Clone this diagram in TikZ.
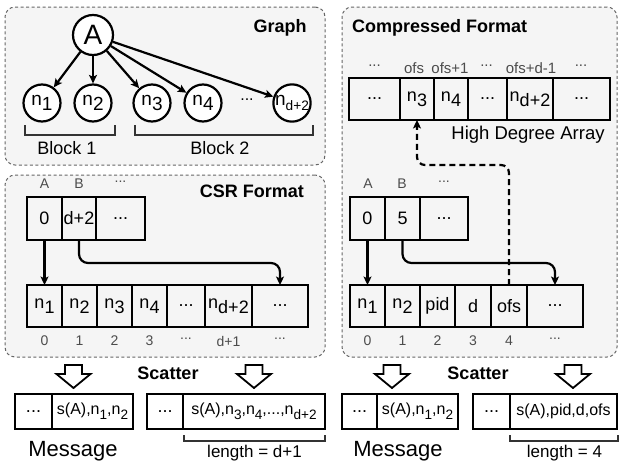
\documentclass[tikz,border=0pt]{standalone}
\usepackage{fontspec}
\usepackage{graphicx}
\setmainfont{Liberation Sans}
\usetikzlibrary{arrows.meta}
\newcommand\fsz[1]{\fontsize{#1}{#1}\selectfont}
\newcommand\lw[2][1]{\raisebox{-0.3em}{\scalebox{#1}{#2}}}
\newcommand\mkcell[6]{\node[cell, minimum width={(#3)-(#2)}, minimum height={(#5)-(#4)}] (#1) at ({((#2)+(#3))/2},{((#4)+(#5))/2}) {#6};}
\newcommand\hollow[2]{\draw[hollowarr] (#2-8.5,365) -- (#2+8.5,365) -- (#2+8.5,374) -- (#2+17,374) -- (#2,388) -- (#2-17,374) -- (#2-8.5,374) -- cycle;}
\begin{document}
\begin{tikzpicture}[x=1pt,y=-1pt,
  panel/.style={draw=black!60, dash pattern=on 3pt off 2.5pt, fill=black!4, rounded corners=10pt, line width=1pt, inner sep=0pt, outer sep=0pt},
  cell/.style={draw, line width=2.2pt, inner sep=0pt, outer sep=0pt, font=\fsz{18}},
  mcell/.style={cell, font=\fsz{16}},
  vert/.style={draw, circle, line width=2.2pt, minimum size=37pt, inner sep=0pt, fill=white, font=\fsz{19}},
  lbl/.style={text=black!70, font=\fsz{14}, inner sep=0pt},
  toplbl/.style={text=black!70, font=\fsz{15}, inner sep=0pt},
  ttl/.style={font=\fsz{18}\bfseries, inner sep=0pt},
  big/.style={font=\fsz{22}, inner sep=0pt},
  arr/.style={line width=2.2pt, -{Stealth[length=8.5pt,width=8pt,inset=2pt]}},
  darr/.style={arr, dash pattern=on 6pt off 4pt, rounded corners=8pt},
  elbow/.style={arr, rounded corners=9pt},
  brk/.style={line width=1.3pt, draw=black!80},
  hollowarr/.style={line width=1.8pt, fill=white, line join=miter},
]
\useasboundingbox (0,0) rectangle (621,463);
\fill[white] (0,0) rectangle (621,463);

% panels
\node[panel, minimum width=320, minimum height=158] (gpanel) at (165,86) {};
\node[panel, minimum width=320, minimum height=182] (cpanel) at (165,266) {};
\node[panel, minimum width=275, minimum height=350] (rpanel) at (479.5,182) {};

% ---------- Graph ----------
\node[ttl] (tgraph) at (280,28) {Graph};
\node[vert, minimum size=40pt, font=\fsz{28}] (A) at (93,35) {A};
\node[vert] (v1) at (42,103) {n\lw{1}};
\node[vert] (v2) at (93,103) {n\lw{2}};
\node[vert] (v3) at (152,103) {n\lw{3}};
\node[vert] (v4) at (203,103) {n\lw{4}};
\node[inner sep=0pt, font=\fsz{16}] (vdots) at (247,100) {...};
\node[vert] (vd) at (292,103) {n\lw[0.72]{d+2}};
\foreach \t in {v1,v2,v3,v4,vd} \draw[arr] (A) -- (\t);
\draw[brk] (25,125) -- (25,135) -- (115,135) -- (115,125);
\draw[brk] (135,125) -- (135,135) -- (313,135) -- (313,125);
\node[big, font=\fsz{18}] (b1) at (67,148) {Block 1};
\node[big, font=\fsz{18}] (b2) at (220,148) {Block 2};

% ---------- CSR ----------
\node[ttl] (tcsr) at (252,191) {CSR Format};
\node[lbl] (la) at (44.5,184) {A};
\node[lbl] (lb) at (79,184) {B};
\node[lbl] (lc) at (120.5,182) {...};
\mkcell{c0}{27}{62}{197}{240}{0}
\mkcell{c1}{62}{96}{197}{240}{d+2}
\mkcell{c2}{96}{145}{197}{240}{...}
\mkcell{e0}{27}{62}{285}{327}{n\lw{1}}
\mkcell{e1}{62}{97}{285}{327}{n\lw{2}}
\mkcell{e2}{97}{132}{285}{327}{n\lw{3}}
\mkcell{e3}{132}{167}{285}{327}{n\lw{4}}
\mkcell{e4}{167}{205}{285}{327}{...}
\mkcell{e5}{205}{252}{285}{327}{n\lw{d+2}}
\mkcell{e6}{252}{308}{285}{327}{...}
\node[lbl] (il1) at (44.5,341) {0};
\node[lbl] (il2) at (79.5,341) {1};
\node[lbl] (il3) at (114.5,341) {2};
\node[lbl] (il4) at (149.5,341) {3};
\node[lbl] (il5) at (186,339) {...};
\node[lbl] (il6) at (228.5,341) {d+1};
\node[lbl] (il7) at (280,339) {...};
\draw[arr] (c0.south) -- (e0.north);
\draw[elbow] (c1.south) -- (c1.south |- 0,263) -- (e6.north |- 0,263) -- (e6.north);

% ---------- Compressed ----------
\node[ttl, anchor=west] (tcomp) at (352,28) {Compressed Format};
\mkcell{h0}{349}{400}{78}{120}{...}
\mkcell{h1}{400}{434}{78}{120}{n\lw{3}}
\mkcell{h2}{434}{468}{78}{120}{n\lw{4}}
\mkcell{h3}{468}{507}{78}{120}{...}
\mkcell{h4}{507}{553}{78}{120}{n\lw{d+2}}
\mkcell{h5}{553}{610}{78}{120}{...}
\node[toplbl] (hl0) at (374.5,66) {...};
\node[toplbl] (hl1) at (414,68) {ofs};
\node[toplbl] (hl2) at (450,68) {ofs+1};
\node[toplbl] (hl3) at (486.5,66) {...};
\node[toplbl] (hl4) at (531,68) {ofs+d-1};
\node[toplbl] (hl5) at (581,66) {...};
\node[big, font=\fsz{18.5}] (hda) at (528,135) {High Degree Array};

\node[lbl] (ra) at (368,184) {A};
\node[lbl] (rb) at (402,184) {B};
\node[lbl] (rc) at (444,182) {...};
\mkcell{r0}{350}{385}{197}{240}{0}
\mkcell{r1}{385}{420}{197}{240}{5}
\mkcell{r2}{420}{468}{197}{240}{...}
\mkcell{s0}{350}{385}{285}{327}{n\lw{1}}
\mkcell{s1}{385}{420}{285}{327}{n\lw{2}}
\mkcell{s2}{420}{455}{285}{327}{pid}
\mkcell{s3}{455}{491}{285}{327}{d}
\mkcell{s4}{491}{527}{285}{327}{ofs}
\mkcell{s5}{527}{583}{285}{327}{...}
\node[lbl] (jl1) at (367.5,341) {0};
\node[lbl] (jl2) at (402.5,341) {1};
\node[lbl] (jl3) at (437.5,341) {2};
\node[lbl] (jl4) at (473,341) {3};
\node[lbl] (jl5) at (509,341) {4};
\node[lbl] (jl6) at (555,339) {...};
\draw[arr] (r0.south) -- (s0.north);
\draw[elbow] (r1.south) -- (r1.south |- 0,263) -- (s5.north |- 0,263) -- (s5.north);
\draw[darr] (s4.north) -- (s4.north |- 0,165) -- (h1.south |- 0,165) -- (h1.south);

% ---------- Scatter ----------
\node[ttl] (sc1) at (168,373) {Scatter};
\node[ttl] (sc2) at (478,373) {Scatter};
\hollow{ha}{73.5}
\hollow{hb}{254}
\hollow{hc}{392}
\hollow{hd}{573}

\mkcell{m0}{15}{52}{394}{429}{...}
\node[mcell, minimum width=81, minimum height=35] (m1) at (92.5,411.5) {s(A),n\lw[0.85]{1},n\lw[0.85]{2}};
\mkcell{m2}{147}{183}{394}{429}{...}
\node[mcell, minimum width=142, minimum height=35] (m3) at (254,411.5) {s(A),n\lw[0.85]{3},n\lw[0.85]{4},...,n\lw[0.85]{d+2}};
\mkcell{m4}{342}{377}{394}{429}{...}
\node[mcell, minimum width=81, minimum height=35] (m5) at (417.5,411.5) {s(A),n\lw[0.85]{1},n\lw[0.85]{2}};
\mkcell{m6}{473}{510}{394}{429}{...}
\node[mcell, minimum width=107, minimum height=35] (m7) at (563.5,411.5) {s(A),pid,d,ofs};

\node[big, anchor=base] (msg1) at (73,456) {Message};
\node[big, anchor=base] (msg2) at (398,456) {Message};
\draw[brk] (184,435) -- (184,441) -- (325,441) -- (325,435);
\draw[brk] (510,435) -- (510,441) -- (618,441) -- (618,435);
\node[big, font=\fsz{17}, anchor=base] (len1) at (254.5,457.5) {length = d+1};
\node[big, font=\fsz{17}, anchor=base] (len2) at (564.5,457.5) {length = 4};
\end{tikzpicture}
\end{document}
